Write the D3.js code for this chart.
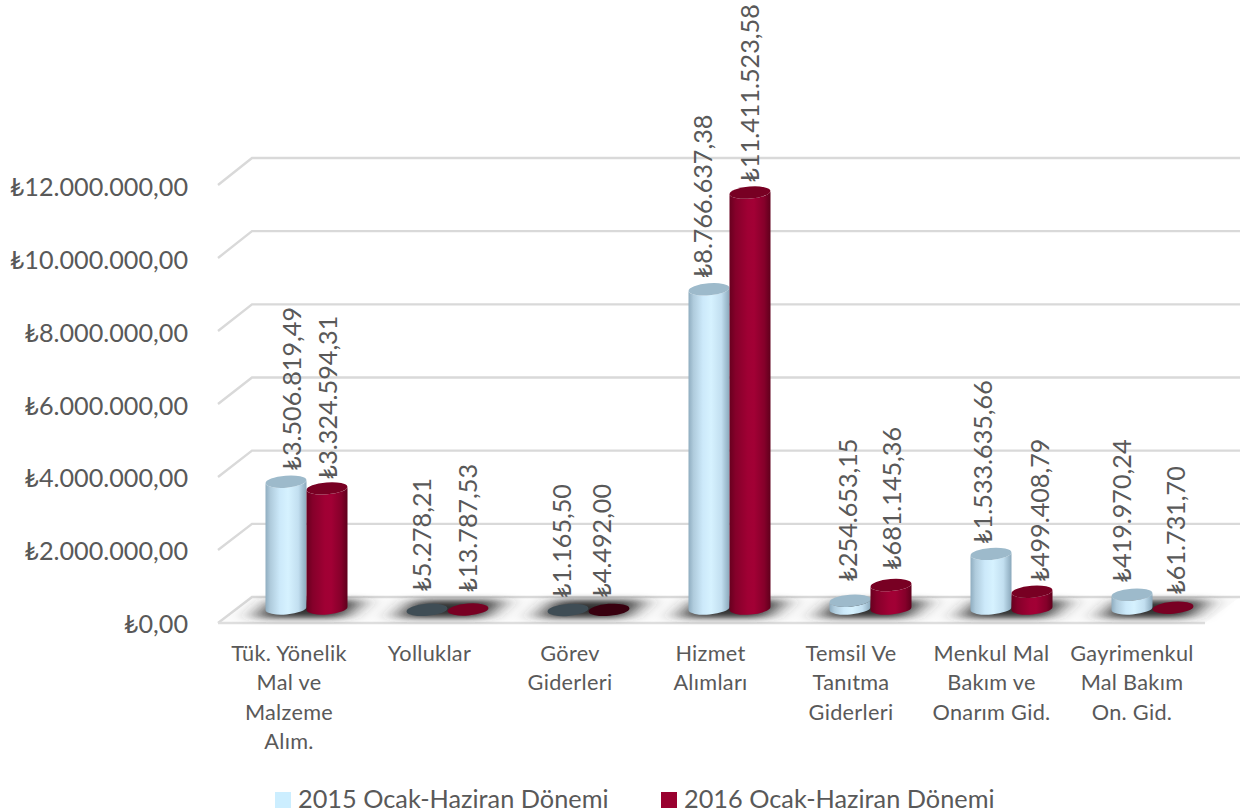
<!DOCTYPE html>
<html><head><meta charset="utf-8">
<script src="https://cdn.jsdelivr.net/npm/d3@7"></script>
<style>html,body{margin:0;padding:0;background:#fff}svg{display:block}text{font-family:Lato,"DejaVu Sans",sans-serif;fill:#595959}</style>
</head><body><svg id="c" width="1240" height="812"></svg>
<script>
const categories = [["Tük. Yönelik","Mal ve","Malzeme","Alım."],["Yolluklar"],["Görev","Giderleri"],["Hizmet","Alımları"],["Temsil Ve","Tanıtma","Giderleri"],["Menkul Mal","Bakım ve","Onarım Gid."],["Gayrimenkul","Mal Bakım","On. Gid."]];
const seriesNames = ["2015 Ocak-Haziran Dönemi","2016 Ocak-Haziran Dönemi"];
const values2015 = [3506819.49,5278.21,1165.50,8766637.38,254653.15,1533635.66,419970.24];
const values2016 = [3324594.31,13787.53,4492.00,11411523.58,681145.36,499408.79,61731.70];
const yTicks = [0,2000000,4000000,6000000,8000000,10000000,12000000];
// label placement tweaks (px): gap above the bar top and sideways nudge
const labelLift = [[11,9],[18,17],[12,12],[11,10],[19,15],[10,10],[12,13]];
const labelNudge = [[6,1],[-5,0],[-6,-7],[-6,0],[-2,1],[-8,8],[-10,3]];

const fmt = v => "₺" + d3.format(",.2f")(v).replace(/[.,]/g, c => c === "," ? "." : ",");
const svg = d3.select("#c");
const defs = svg.append("defs");
const gradient = (id, stops) => defs.append("linearGradient").attr("id", id).selectAll("stop").data(stops).join("stop")
  .attr("offset", d => d[0]).attr("stop-color", d => d[1]);
gradient("g0", [[0,"#8fadc0"],[.12,"#afcbdc"],[.35,"#cce9fa"],[.55,"#d6f2ff"],[.8,"#c2dff0"],[1,"#8aa8bb"]]);
gradient("g1", [[0,"#68001f"],[.15,"#85002a"],[.45,"#a00034"],[.6,"#a20035"],[.85,"#85002a"],[1,"#5f001c"]]);
defs.append("filter").attr("id","blur").attr("x","-60%").attr("y","-120%").attr("width","220%").attr("height","340%")
  .append("feGaussianBlur").attr("stdDeviation","12 3.2");

const yFront = d3.scaleLinear().domain([0,12000000]).range([623,185]);
const yBack = d3.scaleLinear().domain([0,12000000]).range([597,158]);
const yBar = d3.scaleLinear().domain([0,12000000]).range([610,171]);
const yLabel = d3.scaleLinear().domain([0,12000000]).range([633,196]);
const x = d3.scaleBand().domain(d3.range(categories.length)).range([236,1223]);
const xs = d3.scaleBand().domain([0,1]).range([-41,41]);

// floor
const fl = [[218,623],[252,597],[1240,597],[1205,623]];
svg.append("path").attr("d", d3.line()(fl)+"Z").attr("fill","#fbfbfb").attr("stroke","none");
// walls
const grid = svg.append("g").attr("fill","none").attr("stroke","#d9d9d9").attr("stroke-width",2.4);
yTicks.forEach(t => {
  grid.append("path").attr("d", d3.line()([[218,yFront(t)],[252,yBack(t)],[1240,yBack(t)]]));
});
grid.append("path").attr("d", d3.line()([[218,623],[1205,623]])).attr("stroke","#dedede");

// shadows
svg.append("g").selectAll("path").data(d3.range(categories.length)).join("path")
  .attr("d", i => { const c = x(i)+x.bandwidth()/2+2;
    return d3.line()([[c-54,618],[c-34,600],[c+54,600],[c+34,618]])+"Z"; })
  .attr("fill","#333").attr("filter","url(#blur)");

// y labels
svg.append("g").selectAll("text").data(yTicks).join("text")
  .attr("x",188).attr("y", d => yLabel(d)).attr("text-anchor","end").attr("font-size",25.2).text(fmt);

// cylinders
const rx = 20.5, ry = 6, tilt = 1.6;
const capColor = (s,v) => s === 0 ? (v < 6000 ? "#3f4d55" : "#9dbacb") : (v < 6000 ? "#38000f" : "#780023");
function drawBar(g, cx, v, s){
  const base = yBar(0)-1.5, top = yBar(v);
  const arc = (x1,y1,sw) => `A${rx},${ry} -4.5 0 ${sw} ${x1},${y1}`;
  if (base-top > 3) {
    g.append("path").attr("fill",`url(#g${s})`)
      .attr("d",`M${cx-rx},${top+tilt}L${cx-rx},${base+tilt}${arc(cx+rx,base-tilt,0)}L${cx+rx},${top-tilt}${arc(cx-rx,top+tilt,1)}Z`);
  }
  g.append("ellipse").attr("cx",cx).attr("cy",top).attr("rx",rx).attr("ry",ry)
    .attr("transform",`rotate(-4.5 ${cx} ${top})`).attr("fill",capColor(s,v));
}
const bars = svg.append("g");
[values2015,values2016].forEach((vals,s) => vals.forEach((v,i) => {
  drawBar(bars, x(i)+x.bandwidth()/2+xs(s)+xs.bandwidth()/2, v, s);
}));

// data labels
const dl = svg.append("g");
[values2015,values2016].forEach((vals,s) => vals.forEach((v,i) => {
  const cx = x(i)+x.bandwidth()/2+xs(s)+xs.bandwidth()/2+labelNudge[i][s];
  const yy = yBar(v)-labelLift[i][s];
  dl.append("text").attr("transform",`translate(${cx+9},${yy}) rotate(-90)`).attr("font-size",25.2).text(fmt(v));
}));

// categories
const cat = svg.append("g");
categories.forEach((lines,i) => lines.forEach((l,j) => {
  cat.append("text").attr("x", x(i)+x.bandwidth()/2-17.5-i*0.5).attr("y",661+j*29.4).attr("text-anchor","middle")
    .attr("font-size",21.7).attr("letter-spacing",0.3).text(l);
}));

// legend
const legendX = d3.scaleOrdinal().domain([0,1]).range([275,661]);
const colors = ["#cceeff","#99002f"];
seriesNames.forEach((n,s) => {
  svg.append("rect").attr("x",legendX(s)).attr("y",792).attr("width",16).attr("height",16).attr("fill",colors[s]);
  svg.append("text").attr("x",legendX(s)+23).attr("y",808).attr("font-size",25.3).text(n);
});
</script></body></html>
